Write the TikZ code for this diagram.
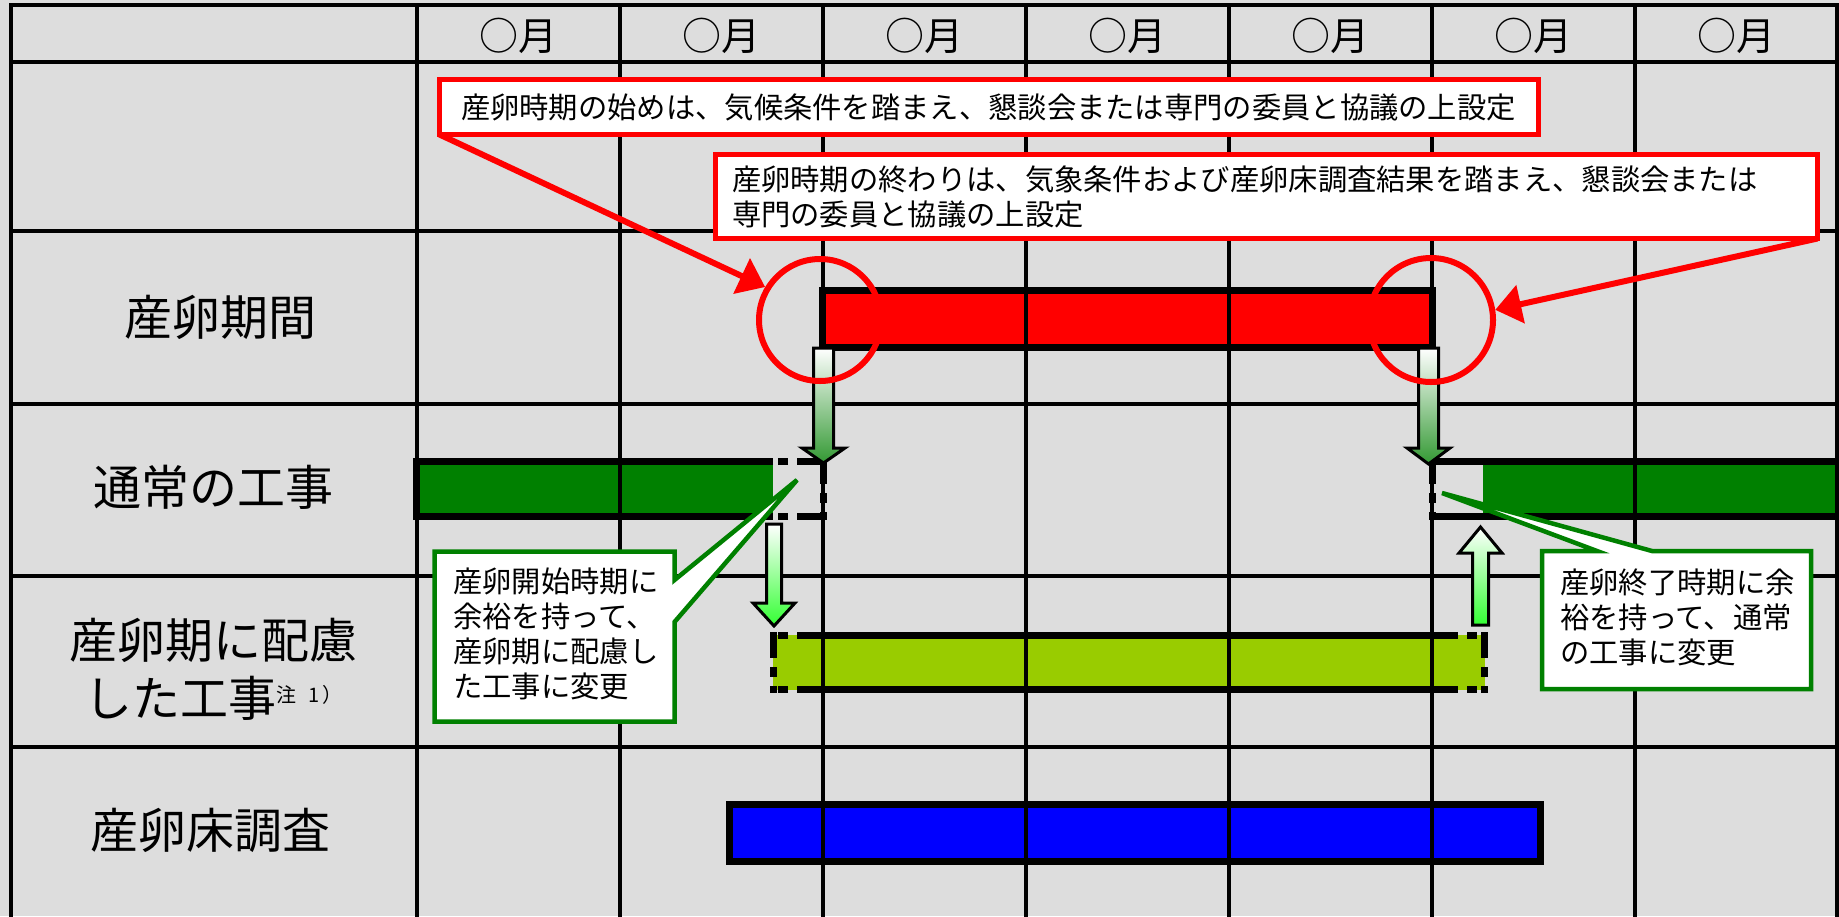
\documentclass[tikz,border=0pt]{standalone}
\usepackage{fontspec}
\setmainfont{Noto Sans CJK JP}
\usetikzlibrary{arrows.meta}
\definecolor{bg}{HTML}{DDDDDD}
\definecolor{rd}{HTML}{FF0000}
\definecolor{gr}{HTML}{008000}
\definecolor{lg}{HTML}{99CC00}
\definecolor{bl}{HTML}{0000FF}
\definecolor{dkarrow}{HTML}{339933}
\definecolor{brarrow}{HTML}{33FF33}
\newcommand{\blockarrow}[7]{%
  \shade[top color=white, bottom color=#7, draw=black, line width=3pt, line join=miter]
  (#1-#5,#2) -- (#1+#5,#2) -- (#1+#5,#3) -- (#1+#6,#3) -- (#1,#4) -- (#1-#6,#3) -- (#1-#5,#3) -- cycle;}
\begin{document}
\begin{tikzpicture}[x=1pt,y=-1pt,
  gridline/.style={line width=4pt,black},
  barline/.style={line width=7pt,black},
  dashbar/.style={line width=7pt,black,dash pattern=on 26pt off 9pt on 10pt off 9pt},
  hdr/.style={font=\fontsize{39}{39}\selectfont, inner sep=0pt},
  rowlab/.style={font=\fontsize{48}{58}\selectfont, inner sep=0pt, align=center},
  redbox/.style={draw=rd, line width=5pt, fill=white, outer sep=0pt, inner ysep=0pt, align=left, anchor=north west, font=\fontsize{29.3}{35}\selectfont},
  greenbox/.style={draw=gr, line width=4.5pt, fill=white, line join=miter},
  calltext/.style={font=\fontsize{29.3}{35}\selectfont, inner sep=0pt, align=left, anchor=west},
  ring/.style={circle, draw=rd, line width=6pt, inner sep=0pt},
  redptr/.style={draw=rd, line width=6pt, -{Triangle[length=26pt,width=38pt]}},
]
\useasboundingbox (0,0) rectangle (1839,916);
\fill[bg] (0,0) rectangle (1839,916);

% bar fills
\fill[rd] (822,290) rectangle (1433,348);
\fill[gr] (416,461) rectangle (773,517);
\fill[gr] (1483,461) rectangle (1837,517);
\fill[lg] (773,635) rectangle (1485,690);
\fill[bl] (729,805) rectangle (1540,861);

% grid
\foreach \y in {62,231,404,576,747} \draw[gridline] (11,\y) -- (1837,\y);
\foreach \x in {417,620,823,1026,1229,1432,1635} \draw[gridline] (\x,5) -- (\x,930);
\draw[gridline] (11,930) -- (11,5) -- (1837,5) -- (1837,930);

% bar outlines
\draw[barline] (822.5,290.5) rectangle (1432.5,347.5);
\draw[barline] (729,804.5) rectangle (1540.5,861);
\draw[barline] (773,461.5) -- (416.5,461.5) -- (416.5,516.5) -- (773,516.5);
\draw[dashbar] (823,461.5) -- (773,461.5);
\draw[dashbar] (823,458) -- (823,520);
\draw[dashbar] (823,516.5) -- (773,516.5);
\draw[barline] (1460,461.5) -- (1837,461.5);
\draw[barline] (1460,516.5) -- (1837,516.5);
\draw[dashbar] (1460,461.5) -- (1432,461.5);
\draw[dashbar] (1432,458) -- (1432,520);
\draw[dashbar] (1460,516.5) -- (1432,516.5);
\draw[barline] (823,635.5) -- (1432,635.5);
\draw[barline] (823,689.5) -- (1432,689.5);
\draw[dashbar] (823,635.5) -- (773.5,635.5);
\draw[dashbar] (773.5,632) -- (773.5,693);
\draw[dashbar] (823,689.5) -- (773.5,689.5);
\draw[dashbar] (1432,635.5) -- (1484,635.5);
\draw[dashbar] (1484,632) -- (1484,693);
\draw[dashbar] (1432,689.5) -- (1484,689.5);

% block arrows
\blockarrow{823.5}{348}{448}{463}{10}{21.5}{dkarrow}
\blockarrow{1428.5}{348}{448}{464}{10}{21.5}{dkarrow}
\blockarrow{774}{524}{603}{626}{7.5}{21}{brarrow}
\blockarrow{1480.5}{625}{553}{527}{8}{21.5}{brarrow}

% green callouts
\draw[greenbox] (434.5,551.5) -- (674.5,551.5) -- (674.5,580) -- (797,480) -- (674.5,622) -- (674.5,721.5) -- (434.5,721.5) -- cycle;
\node[calltext] (gt1) at (453,634) {産卵開始時期に\\余裕を持って、\\産卵期に配慮し\\た工事に変更};
\draw[greenbox] (1542,551) -- (1597,551) -- (1442,493) -- (1652,551) -- (1811,551) -- (1811,689) -- (1542,689) -- cycle;
\node[calltext] (gt2) at (1560,617) {産卵終了時期に余\\裕を持って、通常\\の工事に変更};

% red callouts
\node[redbox, text width=1056pt, inner xsep=21.5pt, minimum height=55pt] (cal1) at (439.5,79.5)
  {産卵時期の始めは、気候条件を踏まえ、懇談会または専門の委員と協議の上設定};
\node[redbox, text width=1069pt, inner xsep=16.5pt, minimum height=84pt] (cal2) at (715.5,154.5)
  {産卵時期の終わりは、気象条件および産卵床調査結果を踏まえ、懇談会または\\専門の委員と協議の上設定};

% rings
\node[ring, minimum size=122pt] (cL) at (820,320) {};
\node[ring, minimum size=124pt] (cR) at (1431,320) {};

% pointers
\draw[redptr] (cal1.south west) -- (cL.149);
\draw[redptr] (cal2.south east) -- (cR.9);

% headers
\foreach \cx [count=\i] in {518.5,721.5,924.5,1127.5,1330.5,1533.5,1736.5}
  \node[hdr] (m\i) at (\cx,36) {○月};

% row labels
\node[rowlab] (r1) at (220,317) {産卵期間};
\node[rowlab] (r2) at (213,487) {通常の工事};
\node[rowlab] (r3) at (213.5,669) {産卵期に配慮\\した工事\raisebox{14pt}{\fontsize{20}{20}\selectfont 注\hspace{12pt}1\hspace{2pt}）}};
\node[rowlab] (r4) at (210,830) {産卵床調査};
\end{tikzpicture}
\end{document}
